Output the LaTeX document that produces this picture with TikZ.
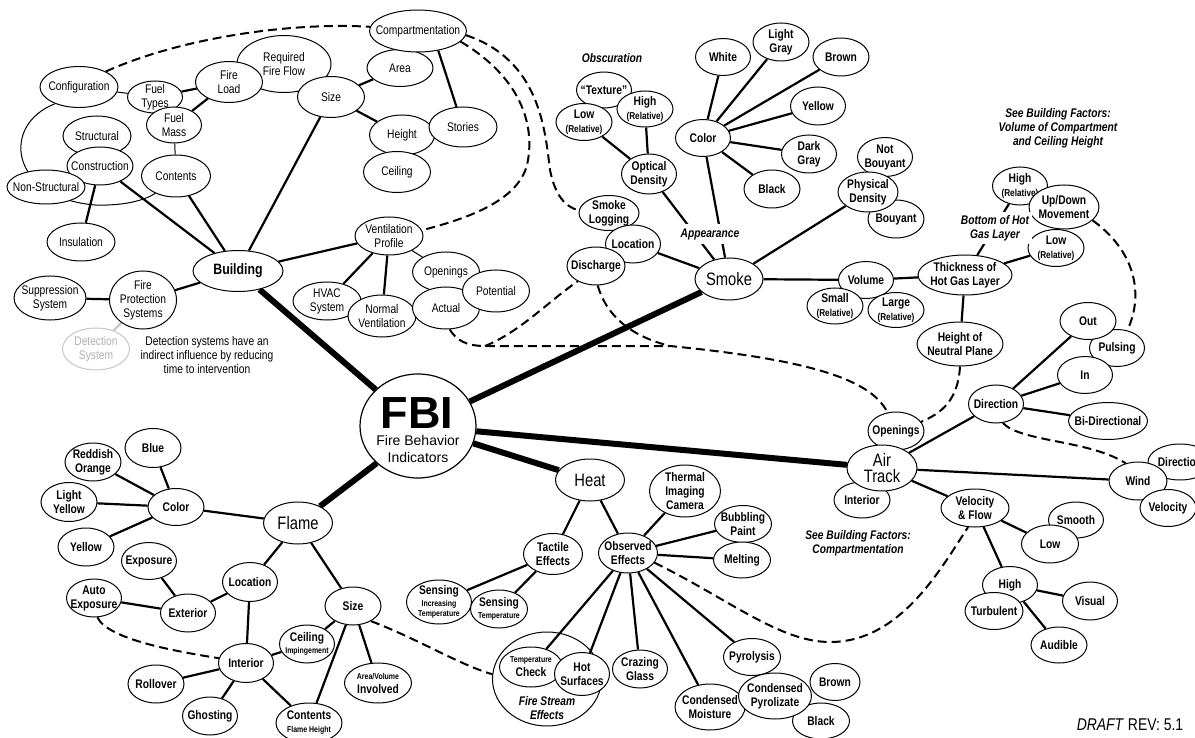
\documentclass[tikz,border=0pt]{standalone}
\usepackage{fontspec}
\setmainfont{Liberation Sans}[FakeStretch=0.82]
\newfontfamily\widefont{Liberation Sans}
\usetikzlibrary{shapes.geometric,backgrounds}

\newcommand\lblfont{\fontsize{12.5}{14}\selectfont}
\newcommand\bigfont{\fontsize{18}{16}\selectfont}
\newcommand\fbifont{\widefont\fontsize{14}{16.5}\selectfont}
\newcommand\rel{{\fontsize{10}{11}\selectfont(Relative)}}
\newcommand\sm[1]{{\fontsize{8.5}{9}\selectfont #1}}

\tikzset{
  bubshape/.style 2 args={ellipse, draw, fill=white, line width=1pt, inner sep=0pt,
    minimum width=#1pt, minimum height=#2pt},
  bub/.style n args={3}{bubshape={#1}{#2},
    label={[anchor=center,align=center,font=\lblfont]center:#3}},
  bubb/.style n args={3}{bubshape={#1}{#2},
    label={[anchor=center,align=center,font=\lblfont\bfseries]center:#3}},
  bigbub/.style n args={3}{bubshape={#1}{#2},
    label={[anchor=center,align=center,font=\bigfont]center:#3}},
  tag/.style={align=center, font=\lblfont\bfseries\itshape, inner sep=1pt},
  spoke/.style={line width=6pt},
  link/.style={line width=2.2pt},
  thinlink/.style={line width=1pt},
  hint/.style={line width=2pt, dash pattern=on 9pt off 5pt},
}

\begin{document}
\begin{tikzpicture}[x=1pt,y=-1pt]
  \useasboundingbox (0,0) rectangle (1195,738);

  % centre
  \node[bubshape={116}{104}, line width=1.2pt] (fbi) at (418,426) {};
  \node[font=\widefont\fontsize{45}{45}\selectfont\bfseries, inner sep=0pt] (fbititle) at (417,413) {FBI};
  \node[font=\fbifont, align=center, inner sep=0pt] (fbisub) at (418,449) {Fire Behavior\\Indicators};

  % building factors
  \node[bub={94}{57}{Required\\Fire Flow}] (rff) at (284,64) {};
  \node[bub={67}{41}{Fire\\Load}] (fload) at (229,82) {};
  \node[bub={55}{32}{Fuel\\Types}] (ftyp) at (155,97) {};
  \node[bub={55}{36}{Fuel\\Mass}] (fmass) at (174,125) {};
  \node[bub={78}{41}{Configuration}] (cfg) at (79,87) {};
  \node[bub={67}{41}{Size}] (bsize) at (331,97) {};
  \node[bub={66}{37}{Area}] (area) at (400,68) {};
  \node[bub={97}{42}{Compartmentation}] (comp) at (418,31) {};
  \node[bub={65}{40}{Height}] (hgt) at (402,135) {};
  \node[bub={68}{40}{Stories}] (stor) at (463,127) {};
  \node[bub={67}{41}{Ceiling}] (ceil) at (397,172) {};
  \node[bub={68}{40}{Structural}] (struc) at (97,136) {};
  \node[bub={66}{38}{Construction}] (constr) at (100,166) {};
  \node[bub={78}{34}{Non-Structural}] (nonstr) at (46,187) {};
  \node[bub={69}{42}{Contents}] (cont) at (176,176) {};
  \node[bub={68}{38}{Insulation}] (insul) at (81,242) {};
  \node[bubshape={90}{41},
    label={[anchor=center,font=\fontsize{15}{16}\selectfont\bfseries]center:Building}] (bld) at (238,271) {};

  \node[bub={68}{38}{Ventilation\\Profile}] (vent) at (389,236) {};
  \node[bub={68}{38}{HVAC\\System}] (hvac) at (327,301) {};
  \node[bub={68}{42}{Normal\\Ventilation}] (nvent) at (382,316) {};
  \node[bub={67}{40}{Openings}] (vopen) at (446,272) {};
  \node[bub={67}{42}{Actual}] (act) at (446,308) {};
  \node[bub={67}{42}{Potential}] (pot) at (496,291) {};

  \node[bub={72}{44}{Suppression\\System}] (sup) at (50,298) {};
  \node[bub={67}{58}{Fire\\Protection\\Systems}] (fps) at (143,300) {};
  \node[bubshape={67}{42}, draw=gray!45,
    label={[anchor=center,align=center,font=\lblfont,text=gray!60]center:Detection\\System}] (det) at (96,349) {};
  \node[align=center, font=\lblfont] (detnote) at (207,355)
    {Detection systems have an\\indirect influence by reducing\\time to intervention};

  % smoke
  \node[bigbub={68}{42}{Smoke}] (smk) at (729,279) {};
  \node[bubb={55}{36}{``Texture''}] (texture) at (604,90) {};
  \node[bubb={56}{37}{Low\\\rel}] (lowr) at (584,122) {};
  \node[bubb={56}{36}{High\\\rel}] (highr) at (645,109) {};
  \node[bubb={55}{40}{Optical\\Density}] (optd) at (649,174) {};
  \node[bubb={60}{35}{Smoke\\Logging}] (slog) at (609,213) {};
  \node[bubb={55}{38}{Location}] (sloc) at (633,244) {};
  \node[bubb={58}{38}{Discharge}] (disc) at (596,266) {};
  \node[bubb={55}{37}{Color}] (scol) at (703,138) {};
  \node[bubb={55}{37}{White}] (white) at (723,57) {};
  \node[bubb={56}{38}{Light\\Gray}] (lgray) at (781,42) {};
  \node[bubb={56}{38}{Brown}] (sbrown) at (841,57) {};
  \node[bubb={55}{38}{Yellow}] (syel) at (818,106) {};
  \node[bubb={55}{38}{Dark\\Gray}] (dgray) at (809,154) {};
  \node[bubb={56}{38}{Black}] (sblack) at (772,189) {};
  \node[bubb={55}{39}{Not\\Bouyant}] (notb) at (885,157) {};
  \node[bubb={56}{38}{Bouyant}] (bouy) at (896,219) {};
  \node[bubb={60}{40}{Physical\\Density}] (phys) at (868,192) {};
  \node[bubb={55}{37}{Volume}] (vol) at (866,280) {};
  \node[bubb={56}{36}{Small\\\rel}] (small) at (835,306) {};
  \node[bubb={56}{35}{Large\\\rel}] (large) at (896,310) {};
  \node[bubb={94}{40}{Thickness of\\Hot Gas Layer}] (thick) at (965,275) {};
  \node[bubb={86}{44}{Height of\\Neutral Plane}] (hnp) at (960,344) {};
  \node[bubb={55}{38}{High\\\rel}] (gashigh) at (1020,186) {};
  \node[bubb={70}{44}{Up/Down\\Movement}] (updown) at (1064,207) {};
  \node[bubb={56}{37}{Low\\\rel}] (gaslow) at (1056,248) {};

  \node[tag] (obsc) at (612,58) {Obscuration};
  \node[tag, fill=white, inner sep=4pt] (appear) at (710,234) {Appearance};
  \node[tag, fill=white, inner sep=3pt] (hotlbl) at (995,228) {Bottom of Hot\\Gas Layer};
  \node[tag] (seevol) at (1058,128) {See Building Factors:\\Volume of Compartment\\and Ceiling Height};

  % air track
  \node[bubb={56}{36}{Interior}] (aint) at (862,500) {};
  \node[bubb={56}{38}{Openings}] (aop) at (896,431) {};
  \node[bigbub={70}{46}{Air\\Track}] (air) at (882,468) {};
  \node[bubb={55}{38}{Direction}] (dirn) at (996,404) {};
  \node[bubb={55}{37}{Pulsing}] (puls) at (1117,348) {};
  \node[bubb={56}{37}{Out}] (out) at (1088,321) {};
  \node[bubb={55}{37}{In}] (ain) at (1085,375) {};
  \node[bubb={79}{37}{Bi-Directional}] (bidir) at (1108,421) {};
  \node[bubb={64}{36}{Direction}] (wdir) at (1180,462) {};
  \node[bubb={58}{38}{Wind}] (wind) at (1138,481) {};
  \node[bubb={56}{37}{Velocity}] (wvel) at (1168,508) {};
  \node[bubb={68}{38}{Velocity\\\& Flow}] (vf) at (975,508) {};
  \node[bubb={55}{36}{Smooth}] (smooth) at (1076,520) {};
  \node[bubb={57}{38}{Low}] (alow) at (1050,544) {};
  \node[bubb={55}{37}{High}] (ahigh) at (1010,585) {};
  \node[bubb={58}{37}{Turbulent}] (turb) at (994,611) {};
  \node[bubb={55}{38}{Visual}] (visual) at (1090,601) {};
  \node[bubb={56}{36}{Audible}] (aud) at (1059,645) {};
  \node[tag] (seecomp) at (858,543) {See Building Factors:\\Compartmentation};

  % heat
  \node[bigbub={69}{42}{Heat}] (heat) at (590,480) {};
  \node[bubb={71}{52}{Thermal\\Imaging\\Camera}] (thermal) at (685,491) {};
  \node[bubb={59}{41}{Tactile\\Effects}] (tact) at (553,554) {};
  \node[bubb={59}{40}{Observed\\Effects}] (obs) at (628,553) {};
  \node[bubb={57}{37}{Bubbling\\Paint}] (bubble) at (743,524) {};
  \node[bubb={57}{36}{Melting}] (melt) at (742,560) {};
  \node[bubb={65}{44}{Sensing\\[-2pt]\sm{Increasing}\\[-4pt]\sm{Temperature}}] (sinc) at (439,602) {};
  \node[bubb={57}{38}{Sensing\\[-2pt]\sm{Temperature}}] (stemp) at (499,609) {};
  \node[bubshape={109}{94}, fill=none] (fse) at (547,679) {};
  \node[bubb={63}{40}{\sm{Temperature}\\Check}] (tcheck) at (531,667) {};
  \node[bubb={55}{43}{Hot\\Surfaces}] (hotsurf) at (582,674) {};
  \node[tag] (fselbl) at (547,708) {Fire Stream\\Effects};
  \node[bubb={55}{38}{Crazing\\Glass}] (craze) at (640,669) {};
  \node[bubb={70}{46}{Condensed\\Moisture}] (cmoist) at (710,707) {};
  \node[bubb={57}{37}{Pyrolysis}] (pyro) at (752,657) {};
  \node[bubb={50}{37}{Brown}] (pbrown) at (835,682) {};
  \node[bubb={57}{36}{Black}] (pblack) at (821,721) {};
  \node[bubb={73}{46}{Condensed\\Pyrolizate}] (cpyro) at (775,696) {};

  % flame
  \node[bigbub={69}{42}{Flame}] (flm) at (298,523) {};
  \node[bubb={56}{37}{Color}] (fcol) at (176,507) {};
  \node[bubb={56}{39}{Blue}] (blue) at (153,448) {};
  \node[bubb={56}{38}{Reddish\\Orange}] (redor) at (93,462) {};
  \node[bubb={56}{39}{Light\\Yellow}] (lyel) at (69,502) {};
  \node[bubb={56}{38}{Yellow}] (fyel) at (86,547) {};
  \node[bubb={55}{37}{Exposure}] (expo) at (149,561) {};
  \node[bubb={55}{38}{Auto\\Exposure}] (autoexp) at (94,598) {};
  \node[bubb={55}{38}{Exterior}] (exter) at (188,613) {};
  \node[bubb={55}{39}{Location}] (floc) at (250,582) {};
  \node[bubb={56}{38}{Size}] (fsize) at (353,606) {};
  \node[bubb={55}{38}{Ceiling\\[-2pt]\sm{Impingement}}] (ceilimp) at (307,644) {};
  \node[bubb={55}{39}{Interior}] (finter) at (246,663) {};
  \node[bubb={56}{38}{Rollover}] (roll) at (156,684) {};
  \node[bubb={55}{38}{Ghosting}] (ghost) at (210,716) {};
  \node[bubb={66}{40}{Contents\\[-1pt]\sm{Flame Height}}] (fcont) at (309,723) {};
  \node[bubb={67}{40}{\sm{Area/Volume}\\Involved}] (areavol) at (378,683) {};

  \node[font=\fontsize{17}{17}\selectfont] (draft) at (1130,725) {\textit{DRAFT} REV: 5.1};

  \begin{scope}[on background layer]
    % main spokes
    \draw[spoke] (fbi) -- (bld);
    \draw[spoke] (fbi) -- (smk);
    \draw[spoke] (fbi) -- (air);
    \draw[spoke] (fbi) -- (heat);
    \draw[spoke] (fbi.-138) -- (flm);

    % building
    \draw[link] (bld) -- (bsize) (bld) -- (cont) (bld) -- (constr) (bld) -- (vent) (bld) -- (fps);
    \draw[link] (constr) -- (insul) (ftyp) -- (fload) (fmass) -- (fload) (bsize) -- (area) (bsize) -- (hgt);
    \draw[link] (comp.-44) -- (stor) (vent) -- (hvac) (vent) -- (nvent) (sup) -- (fps);
    \draw[thinlink] (cfg) -- (ftyp) (fmass) -- (cont) (vent) -- (vopen);
    \draw[link, gray!45] (fps) -- (det);
    \draw[thinlink] (cfg.-145) .. controls (0,125) and (10,198) .. (95,205)
      .. controls (125,206) and (145,200) .. (cont.-140);

    % smoke
    \draw[link] (smk) -- (sloc) (smk) -- (optd) (smk) -- (scol) (smk) -- (phys) (smk) -- (vol);
    \draw[link] (optd) -- (lowr) (optd) -- (highr);
    \draw[link] (scol) -- (white) (scol) -- (lgray) (scol) -- (sbrown) (scol) -- (syel)
      (scol) -- (dgray) (scol) -- (sblack);
    \draw[link] (vol) -- (thick) (thick) -- (hnp) (thick) -- (gashigh) (thick) -- (gaslow);

    % air track
    \draw[link] (air) -- (dirn) (air) -- (wind) (air) -- (vf);
    \draw[link] (dirn) -- (out) (dirn) -- (ain) (dirn) -- (bidir);
    \draw[link] (vf) -- (alow) (vf) -- (ahigh) (ahigh) -- (visual) (ahigh) -- (aud);

    % heat
    \draw[link] (heat) -- (tact) (heat) -- (obs) (obs) -- (thermal) (obs) -- (bubble) (obs) -- (melt);
    \draw[link] (tact) -- (sinc) (tact) -- (stemp);
    \draw[link] (obs) -- (tcheck) (obs) -- (hotsurf) (obs) -- (craze) (obs) -- (cmoist) (obs) -- (pyro);

    % flame
    \draw[link] (flm) -- (fcol) (fcol) -- (blue) (fcol) -- (redor) (fcol) -- (lyel) (fcol) -- (fyel);
    \draw[link] (flm) -- (floc) (flm) -- (fsize) (floc) -- (exter) (exter) -- (expo) (exter) -- (autoexp);
    \draw[link] (floc) -- (finter) (finter) -- (ceilimp) (finter) -- (roll) (finter) -- (ghost) (finter) -- (fcont);
    \draw[link] (fsize) -- (ceilimp) (fsize) -- (fcont) (fsize) -- (areavol);

    % dashed influences
    \draw[hint] (cfg.30) .. controls (180,38) and (290,22) .. (comp.175);
    \draw[hint] (comp.-5) .. controls (540,60) and (545,130) .. (550,170)
      .. controls (555,195) and (565,207) .. (slog.175);
    \draw[hint] (comp.-14) .. controls (525,80) and (535,130) .. (527,165)
      .. controls (518,200) and (470,218) .. (vent.10);
    \coordinate (vjoin) at (485,346);
    \coordinate (sjoin) at (670,346);
    \draw[hint] (act.-80) .. controls (456,340) and (466,346) .. (vjoin) -- (sjoin)
      .. controls (790,358) and (870,375) .. (aop.115);
    \draw[hint] (vjoin) .. controls (520,332) and (550,300) .. (disc.-140);
    \draw[hint] (disc.-85) .. controls (606,315) and (630,336) .. (sjoin);
    \draw[hint] (hnp.south) .. controls (958,400) and (942,413) .. (aop.20);
    \draw[hint] (updown.-25) .. controls (1140,255) and (1142,300) .. (puls.60);
    \draw[hint] (dirn.-70) .. controls (1020,442) and (1090,440) .. (wind.125);
    \draw[hint] (obs.-20) .. controls (730,600) and (780,642) .. (830,642)
      .. controls (900,642) and (940,570) .. (vf.-110);
    \draw[hint] (autoexp.-80) .. controls (108,640) and (180,652) .. (finter.170);
    \draw[hint] (fsize.-40) .. controls (420,640) and (460,665) .. (fse.175);
  \end{scope}
\end{tikzpicture}
\end{document}
